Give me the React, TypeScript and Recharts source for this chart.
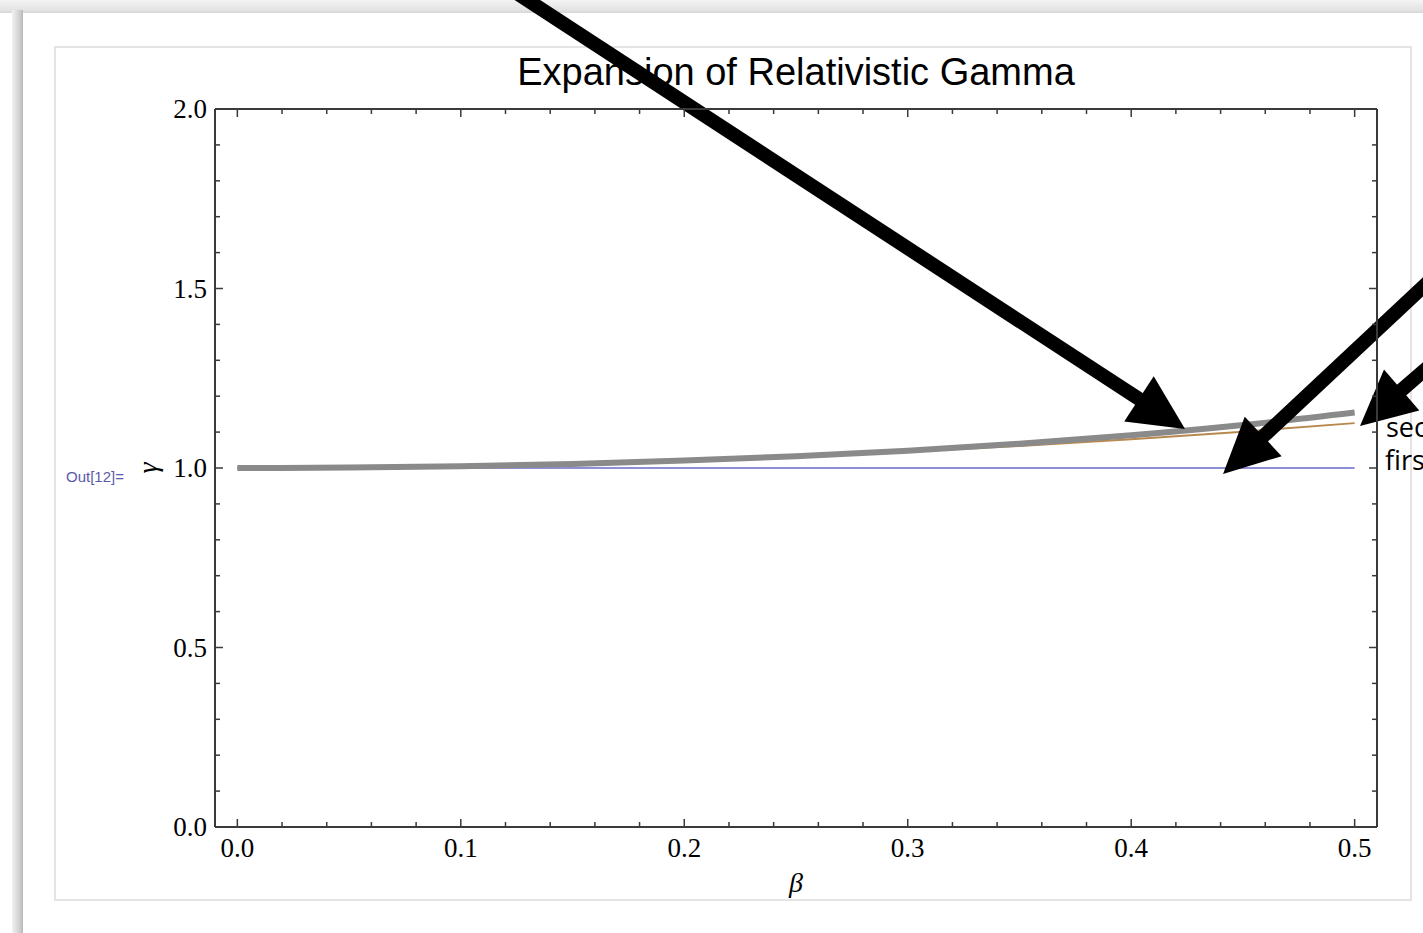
import React from 'react';
import { LineChart, Line, XAxis, YAxis, ReferenceLine } from 'recharts';

// ---- data ----
const betaValues = [0, 0.05, 0.1, 0.15, 0.2, 0.25, 0.3, 0.35, 0.4, 0.45, 0.5];
const exactGamma = [1.0, 1.0013, 1.005, 1.0114, 1.0206, 1.0328, 1.0483, 1.0675, 1.0911, 1.1198, 1.1547];
const secondOrder = [1.0, 1.0013, 1.005, 1.0113, 1.02, 1.0313, 1.045, 1.0613, 1.08, 1.1013, 1.125];
const firstOrder = [1, 1, 1, 1, 1, 1, 1, 1, 1, 1, 1];

const xTicks = [0, 0.02, 0.04, 0.06, 0.08, 0.1, 0.12, 0.14, 0.16, 0.18, 0.2, 0.22, 0.24, 0.26, 0.28, 0.3, 0.32, 0.34, 0.36, 0.38, 0.4, 0.42, 0.44, 0.46, 0.48, 0.5];
const yTicks = [0, 0.1, 0.2, 0.3, 0.4, 0.5, 0.6, 0.7, 0.8, 0.9, 1.0, 1.1, 1.2, 1.3, 1.4, 1.5, 1.6, 1.7, 1.8, 1.9, 2.0];
const xDomain = [-0.01, 0.51];
const yDomain = [0, 2];

const titleText = 'Expansion of Relativistic Gamma';
const xLabel = 'β';
const yLabel = 'γ';
const cellLabel = 'Out[12]=';
const annotationLabels = ['second order', 'first order'];

// annotation arrows: [start, tip] in data coordinates
const arrowStarts = [
  { x: 0.1229, y: 2.3315 },
  { x: 0.5337, y: 1.5226 },
  { x: 0.5337, y: 1.2852 },
];
const arrowTips = [
  { x: 0.4241, y: 1.1086 },
  { x: 0.4411, y: 0.9833 },
  { x: 0.5024, y: 1.117 },
];

const data = betaValues.map((b, i) => ({
  beta: b,
  exact: exactGamma[i],
  second: secondOrder[i],
  first: firstOrder[i],
}));

const FRAME = '#3a3a3a';
const TICK_FONT = '"Liberation Serif", "Times New Roman", serif';

const isMajor = (v: number) => Math.abs(v * 10 - Math.round(v * 10)) < 1e-6;
const isMajorY = (v: number) => Math.abs(v * 2 - Math.round(v * 2)) < 1e-6;

const BottomTick = (props: any) => {
  const { x, y, payload } = props;
  const v = payload.value;
  const major = isMajor(v);
  return (
    <g>
      <line x1={x} y1={y} x2={x} y2={y - (major ? 8 : 5)} stroke={FRAME} strokeWidth={1.5} />
      {major && (
        <text x={x} y={y + 30} textAnchor="middle" fontFamily={TICK_FONT} fontSize={27} fill="#000">
          {v.toFixed(1)}
        </text>
      )}
    </g>
  );
};
const TopTick = (props: any) => {
  const { x, y, payload } = props;
  const major = isMajor(payload.value);
  return <line x1={x} y1={y} x2={x} y2={y + (major ? 8 : 5)} stroke={FRAME} strokeWidth={1.5} />;
};
const LeftTick = (props: any) => {
  const { x, y, payload } = props;
  const v = payload.value;
  const major = isMajorY(v);
  return (
    <g>
      <line x1={x} y1={y} x2={x + (major ? 8 : 5)} y2={y} stroke={FRAME} strokeWidth={1.5} />
      {major && (
        <text x={x - 8} y={y + 9} textAnchor="end" fontFamily={TICK_FONT} fontSize={27} fill="#000">
          {v.toFixed(1)}
        </text>
      )}
    </g>
  );
};
const RightTick = (props: any) => {
  const { x, y, payload } = props;
  const major = isMajorY(payload.value);
  return <line x1={x} y1={y} x2={x - (major ? 8 : 5)} y2={y} stroke={FRAME} strokeWidth={1.5} />;
};

const ArrowShape = (props: any) => {
  const { x1, y1, x2, y2 } = props;
  const dx = x2 - x1;
  const dy = y2 - y1;
  const len = Math.sqrt(dx * dx + dy * dy) || 1;
  const ux = dx / len;
  const uy = dy / len;
  const headLen = 55;
  const headHalf = 27;
  const bx = x2 - ux * headLen;
  const by = y2 - uy * headLen;
  const nx = -uy;
  const ny = ux;
  const pts = `${x2},${y2} ${bx + nx * headHalf},${by + ny * headHalf} ${bx - nx * headHalf},${by - ny * headHalf}`;
  return (
    <g>
      <line x1={x1} y1={y1} x2={bx + ux * 4} y2={by + uy * 4} stroke="#000" strokeWidth={14} />
      <polygon points={pts} fill="#000" />
    </g>
  );
};

const W = 1423;
const H = 933;

export default function App() {
  return (
    <div style={{ position: 'absolute', left: 0, top: 0, width: W, height: H, overflow: 'hidden', background: '#fff' }}>
      <svg width={W} height={H} style={{ position: 'absolute', left: 0, top: 0 }}>
        <defs>
          <linearGradient id="topShade" x1="0" y1="0" x2="0" y2="1">
            <stop offset="0" stopColor="#f4f4f4" />
            <stop offset="0.8" stopColor="#e2e2e2" />
            <stop offset="1" stopColor="#d6d6d6" />
          </linearGradient>
          <linearGradient id="leftShade" x1="0" y1="0" x2="1" y2="0">
            <stop offset="0" stopColor="#f2f2f2" />
            <stop offset="0.7" stopColor="#cfcfcf" />
            <stop offset="1" stopColor="#b8b8b8" />
          </linearGradient>
        </defs>
        <rect x={0} y={0} width={W} height={H} fill="#fff" />
        <rect x={0} y={0} width={W} height={13} fill="url(#topShade)" />
        <rect x={12} y={10} width={11} height={H - 10} fill="url(#leftShade)" />
        <rect x={23} y={13} width={W - 23} height={H - 13} fill="#fff" />
        <rect x={55} y={47} width={1356} height={853} fill="#fff" stroke="#e4e4e4" strokeWidth={2} />
        <text x={796} y={85} textAnchor="middle" fontFamily='"Liberation Sans", Arial, sans-serif' fontSize={38} fill="#000">
          {titleText}
        </text>
        <text x={66} y={482} fontFamily='"Liberation Sans", Arial, sans-serif' fontSize={15} fill="#5a5aa8">
          {cellLabel}
        </text>
        <text
          x={0}
          y={0}
          transform="translate(157,468) rotate(-90)"
          textAnchor="middle"
          fontFamily={TICK_FONT}
          fontStyle="italic"
          fontSize={28}
          fill="#000"
        >
          {yLabel}
        </text>
        <text x={796} y={892} textAnchor="middle" fontFamily={TICK_FONT} fontStyle="italic" fontSize={28} fill="#000">
          {xLabel}
        </text>
        <text x={1386} y={437} fontFamily='"Open Sans", "Noto Sans", sans-serif' fontSize={27} fill="#000">
          {annotationLabels[0]}
        </text>
        <text x={1385} y={470} fontFamily='"Open Sans", "Noto Sans", sans-serif' fontSize={27} fill="#000">
          {annotationLabels[1]}
        </text>
      </svg>
      <div style={{ position: 'absolute', left: 0, top: 0 }}>
        <LineChart width={W} height={H} data={data} margin={{ top: 108, right: 45, bottom: 105, left: 214 }}>
          <XAxis
            xAxisId="main"
            dataKey="beta"
            type="number"
            domain={xDomain}
            allowDataOverflow
            ticks={xTicks}
            interval={0}
            height={1}
            tickSize={0}
            tickMargin={0}
            tickLine={false}
            axisLine={{ stroke: FRAME, strokeWidth: 2 }}
            tick={<BottomTick />}
          />
          <XAxis
            xAxisId="top"
            orientation="top"
            dataKey="beta"
            type="number"
            domain={xDomain}
            allowDataOverflow
            ticks={xTicks}
            interval={0}
            height={1}
            tickSize={0}
            tickMargin={0}
            tickLine={false}
            axisLine={{ stroke: FRAME, strokeWidth: 2 }}
            tick={<TopTick />}
          />
          <YAxis
            yAxisId="main"
            type="number"
            domain={yDomain}
            allowDataOverflow
            ticks={yTicks}
            interval={0}
            width={1}
            tickSize={0}
            tickMargin={0}
            tickLine={false}
            axisLine={{ stroke: FRAME, strokeWidth: 2 }}
            tick={<LeftTick />}
          />
          <YAxis
            yAxisId="right"
            orientation="right"
            type="number"
            domain={yDomain}
            allowDataOverflow
            ticks={yTicks}
            interval={0}
            width={1}
            tickSize={0}
            tickMargin={0}
            tickLine={false}
            axisLine={{ stroke: FRAME, strokeWidth: 2 }}
            tick={<RightTick />}
          />
          <Line
            xAxisId="main"
            yAxisId="main"
            dataKey="first"
            type="linear"
            stroke="#6a6ac8"
            strokeWidth={1.5}
            dot={false}
            isAnimationActive={false}
          />
          <Line
            xAxisId="main"
            yAxisId="main"
            dataKey="second"
            type="monotone"
            stroke="#b8894f"
            strokeWidth={2}
            dot={false}
            isAnimationActive={false}
          />
          <Line
            xAxisId="main"
            yAxisId="main"
            dataKey="exact"
            type="monotone"
            stroke="#8a8a8a"
            strokeWidth={6}
            dot={false}
            isAnimationActive={false}
          />
          {arrowStarts.map((s, i) => (
            <ReferenceLine
              key={i}
              xAxisId="main"
              yAxisId="main"
              ifOverflow="visible"
              segment={[s, arrowTips[i]]}
              shape={<ArrowShape />}
            />
          ))}
        </LineChart>
      </div>
    </div>
  );
}
